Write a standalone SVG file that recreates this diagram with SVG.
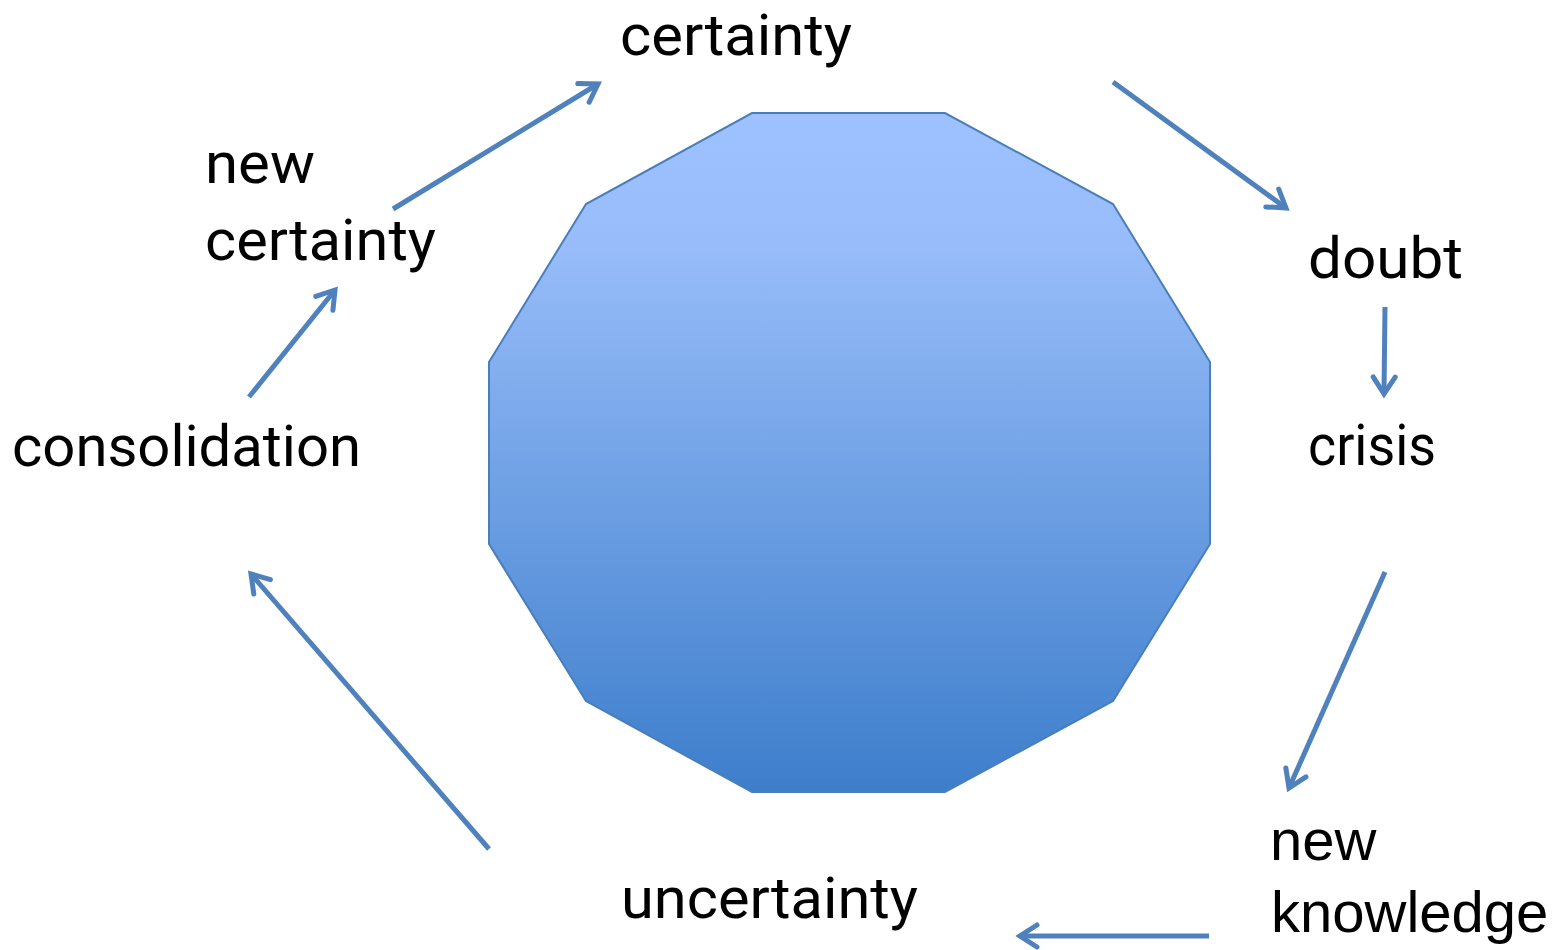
<svg xmlns="http://www.w3.org/2000/svg" width="1562" height="950" viewBox="0 0 1562 950">
  <defs>
    <linearGradient id="fillGrad" x1="0" y1="0" x2="0" y2="1">
      <stop offset="0" stop-color="#9EC2FF"/>
      <stop offset="0.2" stop-color="#97BCF9"/>
      <stop offset="1" stop-color="#3D7ECB"/>
    </linearGradient>
    <marker id="arrow" markerUnits="userSpaceOnUse" viewBox="-24 -16 30 32" refX="0" refY="0" markerWidth="30" markerHeight="32" orient="auto" overflow="visible">
      <path d="M-17,-11 L0,0 L-17,11" fill="none" stroke="#4F81BD" stroke-width="5" stroke-linecap="round" stroke-linejoin="miter"/>
    </marker>
    <style>
      .lbl { font-family: Roboto, "Open Sans", "DejaVu Sans", sans-serif; font-size: 57px; fill: #000000; }
      .lbl2 { font-family: "Liberation Sans", Arial, sans-serif; font-size: 58px; fill: #000000; }
      .conn { fill: none; stroke: #4F81BD; stroke-width: 5; marker-end: url(#arrow); }
    </style>
  </defs>
  <rect width="1562" height="950" fill="#FFFFFF"/>

  <g id="center-shape">
    <polygon points="752,113 945,113 1113,204 1210,362 1210,544 1113,701 945,792 752,792 586,701 489,544 489,362 586,204" fill="url(#fillGrad)" stroke="#4A7EBB" stroke-width="2"/>
  </g>

  <g id="connectors">
    <line class="conn" x1="1113" y1="82" x2="1286" y2="208"/>
    <line class="conn" x1="1385" y1="307" x2="1384" y2="394"/>
    <line class="conn" x1="1385" y1="572" x2="1289" y2="788"/>
    <line class="conn" x1="1209" y1="936" x2="1020" y2="936"/>
    <line class="conn" x1="489" y1="849" x2="251" y2="574"/>
    <line class="conn" x1="249" y1="397" x2="335" y2="290"/>
    <line class="conn" x1="393" y1="209" x2="598" y2="84"/>
  </g>

  <g id="node-certainty">
    <text class="lbl" x="620" y="55" textLength="232" lengthAdjust="spacingAndGlyphs">certainty</text>
  </g>
  <g id="node-doubt">
    <text class="lbl" x="1308" y="278" textLength="155" lengthAdjust="spacingAndGlyphs">doubt</text>
  </g>
  <g id="node-crisis">
    <text class="lbl" x="1308" y="465" textLength="128" lengthAdjust="spacingAndGlyphs">crisis</text>
  </g>
  <g id="node-new-knowledge">
    <text class="lbl2" x="1270" y="860">new</text>
    <text class="lbl2" x="1271" y="932">knowledge</text>
  </g>
  <g id="node-uncertainty">
    <text class="lbl" x="621" y="918" textLength="297" lengthAdjust="spacingAndGlyphs">uncertainty</text>
  </g>
  <g id="node-consolidation">
    <text class="lbl" x="12" y="466" textLength="349" lengthAdjust="spacingAndGlyphs">consolidation</text>
  </g>
  <g id="node-new-certainty">
    <text class="lbl" x="205" y="183" textLength="110" lengthAdjust="spacingAndGlyphs">new</text>
    <text class="lbl" x="205" y="260" textLength="231" lengthAdjust="spacingAndGlyphs">certainty</text>
  </g>
</svg>
